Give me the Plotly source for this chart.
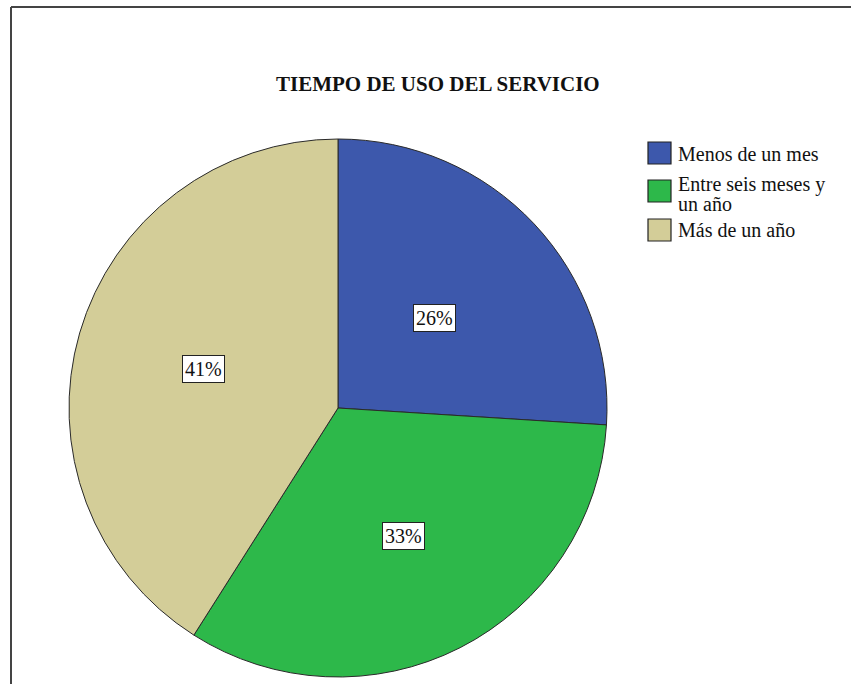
import math
import plotly.graph_objects as go

# Chart data
categories = ["Menos de un mes", "Entre seis meses y un año", "Más de un año"]
legend_lines = [["Menos de un mes"], ["Entre seis meses y", "un año"], ["Más de un año"]]
percentages = [26, 33, 41]
colors = ["#3d58ac", "#2db84a", "#d3cd98"]
title_text = "TIEMPO DE USO DEL SERVICIO"

W, H = 851, 684
serif = "Liberation Serif, Times New Roman, serif"

# pie area in pixels
px_left, px_right, px_top, px_bottom = 68, 608, 139, 677
dom_x = [px_left / W, px_right / W]
dom_y = [1 - px_bottom / H, 1 - px_top / H]

fig = go.Figure()
fig.add_trace(go.Pie(
    labels=categories,
    values=percentages,
    sort=False,
    direction="clockwise",
    rotation=0,
    marker=dict(colors=colors, line=dict(color="#2a2a2a", width=1)),
    textinfo="none",
    hoverinfo="label+percent",
    showlegend=False,
    domain=dict(x=dom_x, y=dom_y),
))

# boxed percentage labels placed along the middle angle of each slice
label_radius = [0.49, 0.535, 0.52]
cx = (px_left + px_right) / 2
cy = (px_top + px_bottom) / 2
radius = min(px_right - px_left, px_bottom - px_top) / 2
total = sum(percentages)
annotations = []
cum = 0
for v, rf in zip(percentages, label_radius):
    mid = (cum + v / 2) / total * 2 * math.pi
    cum += v
    r = radius * rf
    x = cx + r * math.sin(mid)
    y = cy - r * math.cos(mid)
    annotations.append(dict(
        x=x / W, y=1 - y / H, xref="paper", yref="paper",
        xanchor="center", yanchor="middle",
        text=f"{v}%", showarrow=False,
        font=dict(family=serif, size=20, color="#111111"),
        bgcolor="white", bordercolor="#222222", borderwidth=1, borderpad=2,
    ))

# title
annotations.append(dict(
    x=438 / W, y=1 - 84 / H, xref="paper", yref="paper",
    text=f"<b>{title_text}</b>", showarrow=False,
    font=dict(family=serif, size=21, color="#111111"),
    xanchor="center", yanchor="middle",
))

# legend: swatches and (possibly wrapped) labels
shapes = []
sw_x0, sw_x1 = 648, 671
swatch_rows = [(142, 164), (180, 202), (219, 241)]
text_rows = [[154], [184, 204], [230]]
for (y0, y1), lines, ys, col in zip(swatch_rows, legend_lines, text_rows, colors):
    shapes.append(dict(
        type="rect", xref="paper", yref="paper",
        x0=sw_x0 / W, x1=sw_x1 / W, y0=1 - y1 / H, y1=1 - y0 / H,
        fillcolor=col, line=dict(color="#222222", width=1.2),
    ))
    for line, ty in zip(lines, ys):
        annotations.append(dict(
            x=676 / W, y=1 - ty / H, xref="paper", yref="paper",
            text=line, showarrow=False, align="left",
            xanchor="left", yanchor="middle",
            font=dict(family=serif, size=20, color="#111111"),
        ))

# outer frame (left and top edges)
shapes.append(dict(type="line", xref="paper", yref="paper",
                   x0=11 / W, x1=11 / W, y0=0, y1=1 - 7 / H,
                   line=dict(color="#444444", width=2)))
shapes.append(dict(type="line", xref="paper", yref="paper",
                   x0=11 / W, x1=1, y0=1 - 7 / H, y1=1 - 7 / H,
                   line=dict(color="#444444", width=2)))

fig.update_layout(
    width=W, height=H,
    margin=dict(l=0, r=0, t=0, b=0),
    paper_bgcolor="white",
    plot_bgcolor="white",
    annotations=annotations,
    shapes=shapes,
)

fig.write_html("out.html")
